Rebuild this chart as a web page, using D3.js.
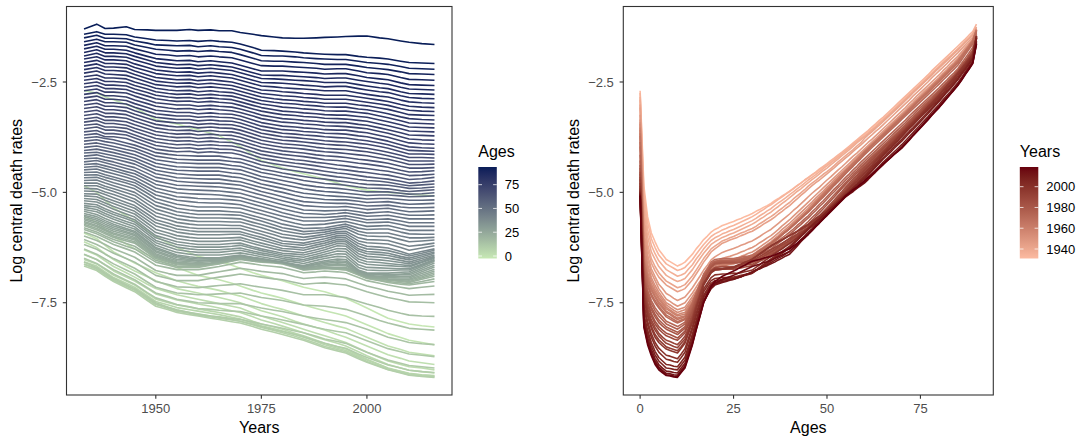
<!DOCTYPE html>
<html>
<head>
<meta charset="utf-8">
<script src="https://cdn.jsdelivr.net/npm/d3@7"></script>
<style>
  body { margin: 0; background: #ffffff; }
  svg { display: block; }
  text { font-family: "Liberation Sans", Arial, Helvetica, sans-serif; }
</style>
</head>
<body>
<svg id="chart" width="1080" height="439"></svg>
<script>
// Calendar years sampled (columns of logMx)
const years = [1933, 1936, 1938, 1940, 1943, 1945, 1948, 1950, 1953, 1955, 1958, 1960, 1963, 1965, 1968, 1970, 1973,
  1975, 1978, 1980, 1983, 1985, 1988, 1990, 1993, 1995, 1998, 2000, 2003, 2005, 2008, 2010, 2013, 2016];

// Single ages (rows of logMx); 90 is the open age group
const ages = [0,1,2,3,4,5,6,7,8,9,10,11,12,13,14,15,16,17,18,19,20,21,22,23,24,25,26,27,28,29,
  30,31,32,33,34,35,36,37,38,39,40,41,42,43,44,45,46,47,48,49,50,51,52,53,54,55,56,57,58,59,
  60,61,62,63,64,65,66,67,68,69,70,71,72,73,74,75,76,77,78,79,80,81,82,83,84,85,86,87,88,89,90];

// Log central death rates, one row per age, one column per year
const logMx = [
  [-2.70,-2.75,-2.84,-2.90,-3.01,-3.08,-3.24,-3.35,-3.41,-3.45,-3.53,-3.58,-3.66,-3.72,-3.86,-3.96,-4.15,-4.28,-4.38,-4.45,-4.53,-4.58,-4.65,-4.70,-4.79,-4.85,-4.91,-4.95,-4.98,-5.00,-5.02,-5.04,-5.06,-5.08],
  [-4.85,-5.00,-5.18,-5.35,-5.53,-5.65,-5.86,-6.00,-6.15,-6.25,-6.37,-6.45,-6.51,-6.55,-6.65,-6.72,-6.82,-6.88,-6.95,-7.00,-7.09,-7.15,-7.21,-7.25,-7.34,-7.40,-7.53,-7.62,-7.76,-7.85,-7.93,-7.98,-8.02,-8.05],
  [-5.55,-5.68,-5.84,-6.00,-6.17,-6.28,-6.41,-6.50,-6.62,-6.70,-6.81,-6.88,-6.94,-6.98,-7.06,-7.12,-7.22,-7.28,-7.35,-7.40,-7.49,-7.55,-7.63,-7.68,-7.75,-7.80,-7.92,-8.00,-8.12,-8.20,-8.29,-8.35,-8.40,-8.45],
  [-5.92,-6.05,-6.20,-6.35,-6.50,-6.60,-6.73,-6.82,-6.93,-7.00,-7.08,-7.13,-7.18,-7.22,-7.30,-7.35,-7.45,-7.52,-7.60,-7.65,-7.74,-7.80,-7.89,-7.95,-8.03,-8.08,-8.20,-8.28,-8.40,-8.48,-8.56,-8.62,-8.66,-8.70],
  [-6.12,-6.25,-6.39,-6.52,-6.68,-6.78,-6.91,-7.00,-7.11,-7.18,-7.24,-7.28,-7.34,-7.38,-7.45,-7.50,-7.61,-7.68,-7.76,-7.82,-7.92,-7.98,-8.06,-8.12,-8.22,-8.28,-8.40,-8.48,-8.60,-8.68,-8.76,-8.82,-8.86,-8.90],
  [-6.30,-6.42,-6.55,-6.68,-6.82,-6.92,-7.08,-7.18,-7.26,-7.32,-7.38,-7.42,-7.48,-7.52,-7.58,-7.62,-7.73,-7.80,-7.89,-7.95,-8.04,-8.10,-8.19,-8.25,-8.34,-8.40,-8.53,-8.62,-8.74,-8.82,-8.90,-8.95,-8.98,-9.02],
  [-6.41,-6.52,-6.65,-6.78,-6.92,-7.01,-7.18,-7.30,-7.38,-7.44,-7.49,-7.53,-7.58,-7.62,-7.68,-7.72,-7.82,-7.89,-7.97,-8.03,-8.12,-8.18,-8.28,-8.34,-8.42,-8.48,-8.61,-8.70,-8.82,-8.90,-8.98,-9.03,-9.06,-9.09],
  [-6.52,-6.62,-6.75,-6.88,-7.01,-7.10,-7.29,-7.42,-7.50,-7.55,-7.60,-7.64,-7.69,-7.72,-7.78,-7.82,-7.92,-7.98,-8.05,-8.10,-8.19,-8.25,-8.35,-8.42,-8.50,-8.55,-8.69,-8.78,-8.90,-8.98,-9.05,-9.10,-9.13,-9.15],
  [-6.57,-6.67,-6.80,-6.93,-7.06,-7.15,-7.34,-7.47,-7.55,-7.61,-7.66,-7.69,-7.74,-7.77,-7.83,-7.87,-7.96,-8.02,-8.09,-8.14,-8.22,-8.28,-8.38,-8.45,-8.53,-8.58,-8.71,-8.80,-8.91,-8.99,-9.06,-9.11,-9.14,-9.16],
  [-6.62,-6.72,-6.85,-6.98,-7.11,-7.20,-7.40,-7.53,-7.61,-7.67,-7.72,-7.75,-7.80,-7.83,-7.88,-7.92,-8.00,-8.06,-8.13,-8.18,-8.26,-8.32,-8.42,-8.49,-8.56,-8.61,-8.74,-8.83,-8.94,-9.01,-9.08,-9.13,-9.16,-9.18],
  [-6.67,-6.77,-6.90,-7.02,-7.16,-7.25,-7.45,-7.58,-7.66,-7.72,-7.77,-7.80,-7.85,-7.88,-7.93,-7.96,-8.04,-8.10,-8.17,-8.22,-8.30,-8.35,-8.45,-8.52,-8.59,-8.64,-8.77,-8.85,-8.95,-9.02,-9.09,-9.14,-9.17,-9.19],
  [-6.63,-6.74,-6.87,-6.99,-7.13,-7.22,-7.41,-7.54,-7.63,-7.69,-7.74,-7.78,-7.82,-7.85,-7.89,-7.92,-7.99,-8.04,-8.11,-8.15,-8.22,-8.27,-8.36,-8.42,-8.49,-8.53,-8.66,-8.74,-8.84,-8.91,-8.98,-9.03,-9.06,-9.08],
  [-6.58,-6.70,-6.83,-6.95,-7.09,-7.18,-7.37,-7.50,-7.60,-7.66,-7.72,-7.76,-7.80,-7.82,-7.86,-7.88,-7.94,-7.98,-8.04,-8.08,-8.14,-8.18,-8.26,-8.32,-8.38,-8.42,-8.54,-8.62,-8.73,-8.80,-8.87,-8.92,-8.95,-8.98],
  [-6.49,-6.61,-6.73,-6.85,-6.99,-7.08,-7.27,-7.39,-7.48,-7.54,-7.59,-7.63,-7.65,-7.67,-7.69,-7.70,-7.76,-7.80,-7.85,-7.89,-7.95,-7.99,-8.06,-8.10,-8.15,-8.18,-8.29,-8.36,-8.47,-8.54,-8.61,-8.66,-8.69,-8.72],
  [-6.40,-6.52,-6.64,-6.75,-6.89,-6.98,-7.16,-7.28,-7.36,-7.42,-7.47,-7.50,-7.51,-7.52,-7.52,-7.52,-7.58,-7.62,-7.67,-7.70,-7.76,-7.80,-7.85,-7.88,-7.92,-7.95,-8.04,-8.10,-8.21,-8.28,-8.35,-8.40,-8.43,-8.45],
  [-6.28,-6.40,-6.51,-6.62,-6.76,-6.85,-7.03,-7.15,-7.23,-7.28,-7.30,-7.32,-7.31,-7.30,-7.29,-7.28,-7.34,-7.38,-7.42,-7.45,-7.51,-7.55,-7.57,-7.58,-7.62,-7.65,-7.74,-7.80,-7.90,-7.96,-8.03,-8.08,-8.10,-8.12],
  [-6.18,-6.29,-6.40,-6.50,-6.63,-6.72,-6.90,-7.02,-7.09,-7.14,-7.15,-7.16,-7.13,-7.11,-7.09,-7.07,-7.12,-7.15,-7.19,-7.22,-7.28,-7.32,-7.32,-7.32,-7.36,-7.38,-7.47,-7.53,-7.61,-7.67,-7.74,-7.78,-7.80,-7.81],
  [-6.07,-6.18,-6.28,-6.38,-6.50,-6.58,-6.76,-6.88,-6.95,-7.00,-7.00,-7.00,-6.95,-6.92,-6.88,-6.85,-6.89,-6.92,-6.96,-6.98,-7.04,-7.08,-7.06,-7.05,-7.08,-7.10,-7.19,-7.25,-7.33,-7.38,-7.44,-7.48,-7.49,-7.50],
  [-5.99,-6.09,-6.18,-6.28,-6.39,-6.47,-6.65,-6.77,-6.84,-6.88,-6.88,-6.88,-6.83,-6.80,-6.75,-6.72,-6.76,-6.79,-6.82,-6.84,-6.91,-6.95,-6.93,-6.92,-6.94,-6.96,-7.06,-7.12,-7.19,-7.24,-7.29,-7.33,-7.32,-7.31],
  [-5.90,-6.00,-6.09,-6.18,-6.28,-6.35,-6.53,-6.65,-6.71,-6.75,-6.75,-6.75,-6.71,-6.68,-6.62,-6.58,-6.62,-6.65,-6.68,-6.70,-6.77,-6.82,-6.80,-6.78,-6.80,-6.82,-6.93,-7.00,-7.06,-7.10,-7.15,-7.18,-7.15,-7.12],
  [-5.84,-5.94,-6.03,-6.12,-6.22,-6.28,-6.46,-6.58,-6.65,-6.70,-6.70,-6.70,-6.65,-6.62,-6.56,-6.52,-6.56,-6.58,-6.60,-6.62,-6.70,-6.76,-6.74,-6.72,-6.74,-6.76,-6.87,-6.95,-7.00,-7.04,-7.08,-7.10,-7.06,-7.02],
  [-5.80,-5.90,-5.99,-6.07,-6.16,-6.22,-6.41,-6.54,-6.62,-6.67,-6.68,-6.68,-6.64,-6.61,-6.55,-6.51,-6.55,-6.57,-6.59,-6.61,-6.69,-6.75,-6.73,-6.72,-6.74,-6.75,-6.86,-6.94,-6.99,-7.02,-7.05,-7.07,-7.02,-6.96],
  [-5.75,-5.85,-5.94,-6.02,-6.10,-6.15,-6.36,-6.50,-6.58,-6.64,-6.65,-6.66,-6.62,-6.60,-6.54,-6.50,-6.54,-6.56,-6.58,-6.60,-6.68,-6.74,-6.73,-6.72,-6.73,-6.74,-6.85,-6.93,-6.97,-6.99,-7.02,-7.04,-6.97,-6.90],
  [-5.72,-5.82,-5.91,-5.99,-6.07,-6.12,-6.33,-6.47,-6.56,-6.62,-6.64,-6.65,-6.61,-6.59,-6.54,-6.50,-6.54,-6.56,-6.58,-6.60,-6.68,-6.74,-6.72,-6.71,-6.72,-6.73,-6.85,-6.93,-6.96,-6.98,-7.00,-7.02,-6.94,-6.86],
  [-5.69,-5.78,-5.87,-5.95,-6.03,-6.08,-6.30,-6.45,-6.54,-6.60,-6.62,-6.63,-6.61,-6.59,-6.54,-6.50,-6.54,-6.56,-6.58,-6.60,-6.68,-6.74,-6.72,-6.71,-6.71,-6.71,-6.84,-6.92,-6.95,-6.97,-6.98,-6.99,-6.91,-6.82],
  [-5.66,-5.75,-5.84,-5.92,-6.00,-6.05,-6.27,-6.42,-6.52,-6.58,-6.60,-6.62,-6.60,-6.58,-6.53,-6.50,-6.54,-6.56,-6.58,-6.60,-6.68,-6.74,-6.72,-6.70,-6.70,-6.70,-6.83,-6.92,-6.94,-6.96,-6.97,-6.97,-6.88,-6.78],
  [-5.62,-5.71,-5.80,-5.88,-5.96,-6.02,-6.24,-6.39,-6.49,-6.55,-6.57,-6.59,-6.57,-6.56,-6.51,-6.48,-6.52,-6.55,-6.58,-6.60,-6.67,-6.72,-6.69,-6.67,-6.65,-6.66,-6.84,-6.90,-6.92,-6.93,-6.94,-6.94,-6.84,-6.74],
  [-5.59,-5.67,-5.76,-5.84,-5.92,-5.98,-6.20,-6.35,-6.45,-6.52,-6.54,-6.56,-6.55,-6.54,-6.50,-6.47,-6.51,-6.54,-6.57,-6.59,-6.66,-6.71,-6.67,-6.64,-6.62,-6.63,-6.82,-6.88,-6.90,-6.91,-6.91,-6.91,-6.80,-6.69],
  [-5.55,-5.63,-5.72,-5.80,-5.89,-5.95,-6.17,-6.32,-6.42,-6.48,-6.52,-6.54,-6.53,-6.52,-6.48,-6.45,-6.49,-6.52,-6.56,-6.59,-6.65,-6.69,-6.64,-6.61,-6.58,-6.59,-6.80,-6.86,-6.87,-6.88,-6.87,-6.87,-6.76,-6.65],
  [-5.52,-5.59,-5.68,-5.76,-5.85,-5.91,-6.13,-6.28,-6.38,-6.45,-6.49,-6.51,-6.50,-6.50,-6.46,-6.44,-6.48,-6.51,-6.55,-6.58,-6.64,-6.68,-6.62,-6.58,-6.55,-6.56,-6.78,-6.84,-6.85,-6.86,-6.85,-6.84,-6.72,-6.60],
  [-5.48,-5.55,-5.64,-5.72,-5.82,-5.88,-6.10,-6.25,-6.35,-6.42,-6.46,-6.48,-6.48,-6.48,-6.44,-6.42,-6.47,-6.50,-6.55,-6.58,-6.63,-6.66,-6.59,-6.55,-6.51,-6.52,-6.76,-6.82,-6.83,-6.83,-6.81,-6.80,-6.68,-6.56],
  [-5.43,-5.50,-5.59,-5.67,-5.77,-5.83,-6.05,-6.20,-6.30,-6.36,-6.40,-6.42,-6.42,-6.42,-6.39,-6.37,-6.42,-6.46,-6.51,-6.54,-6.58,-6.61,-6.54,-6.50,-6.45,-6.46,-6.70,-6.76,-6.77,-6.77,-6.76,-6.76,-6.65,-6.54],
  [-5.39,-5.44,-5.53,-5.61,-5.71,-5.78,-6.00,-6.14,-6.24,-6.30,-6.34,-6.36,-6.36,-6.36,-6.33,-6.31,-6.37,-6.41,-6.46,-6.50,-6.54,-6.56,-6.49,-6.45,-6.39,-6.40,-6.64,-6.70,-6.71,-6.72,-6.73,-6.73,-6.63,-6.52],
  [-5.34,-5.39,-5.48,-5.56,-5.66,-5.72,-5.94,-6.09,-6.18,-6.24,-6.28,-6.30,-6.30,-6.30,-6.28,-6.26,-6.33,-6.37,-6.42,-6.46,-6.50,-6.52,-6.45,-6.40,-6.33,-6.34,-6.57,-6.63,-6.65,-6.66,-6.68,-6.69,-6.59,-6.49],
  [-5.30,-5.33,-5.42,-5.50,-5.60,-5.67,-5.89,-6.03,-6.12,-6.18,-6.22,-6.24,-6.24,-6.24,-6.22,-6.20,-6.27,-6.32,-6.38,-6.42,-6.45,-6.47,-6.40,-6.35,-6.27,-6.28,-6.51,-6.57,-6.59,-6.61,-6.64,-6.66,-6.57,-6.47],
  [-5.25,-5.28,-5.37,-5.45,-5.55,-5.62,-5.84,-5.98,-6.06,-6.12,-6.16,-6.18,-6.18,-6.18,-6.16,-6.15,-6.23,-6.28,-6.34,-6.38,-6.40,-6.42,-6.35,-6.30,-6.21,-6.22,-6.45,-6.51,-6.53,-6.55,-6.59,-6.62,-6.54,-6.45],
  [-5.19,-5.22,-5.30,-5.38,-5.49,-5.56,-5.77,-5.91,-5.99,-6.05,-6.09,-6.11,-6.11,-6.11,-6.09,-6.08,-6.16,-6.21,-6.28,-6.32,-6.35,-6.37,-6.30,-6.25,-6.16,-6.17,-6.39,-6.45,-6.47,-6.49,-6.54,-6.58,-6.50,-6.42],
  [-5.14,-5.16,-5.24,-5.32,-5.42,-5.49,-5.70,-5.84,-5.92,-5.98,-6.02,-6.04,-6.04,-6.04,-6.03,-6.02,-6.10,-6.15,-6.22,-6.27,-6.29,-6.31,-6.24,-6.20,-6.11,-6.12,-6.33,-6.39,-6.41,-6.43,-6.49,-6.53,-6.46,-6.38],
  [-5.08,-5.10,-5.18,-5.25,-5.36,-5.43,-5.63,-5.76,-5.84,-5.90,-5.94,-5.96,-5.96,-5.96,-5.95,-5.95,-6.03,-6.08,-6.16,-6.21,-6.24,-6.26,-6.19,-6.15,-6.07,-6.08,-6.28,-6.34,-6.36,-6.38,-6.45,-6.49,-6.42,-6.35],
  [-5.03,-5.04,-5.12,-5.19,-5.29,-5.36,-5.56,-5.69,-5.77,-5.83,-5.87,-5.89,-5.89,-5.89,-5.89,-5.89,-5.97,-6.02,-6.10,-6.16,-6.18,-6.20,-6.14,-6.10,-6.02,-6.03,-6.22,-6.28,-6.30,-6.32,-6.39,-6.44,-6.38,-6.31],
  [-4.97,-4.98,-5.05,-5.12,-5.23,-5.30,-5.49,-5.62,-5.70,-5.76,-5.80,-5.82,-5.82,-5.82,-5.82,-5.82,-5.90,-5.95,-6.04,-6.10,-6.13,-6.15,-6.09,-6.05,-5.98,-5.98,-6.16,-6.22,-6.24,-6.26,-6.34,-6.40,-6.34,-6.28],
  [-4.91,-4.92,-4.99,-5.05,-5.15,-5.22,-5.41,-5.54,-5.62,-5.68,-5.72,-5.74,-5.74,-5.74,-5.75,-5.75,-5.83,-5.88,-5.96,-6.02,-6.06,-6.08,-6.03,-6.00,-5.93,-5.93,-6.10,-6.14,-6.16,-6.17,-6.25,-6.31,-6.26,-6.21],
  [-4.85,-4.85,-4.92,-4.98,-5.08,-5.15,-5.34,-5.46,-5.54,-5.60,-5.64,-5.66,-5.66,-5.66,-5.67,-5.67,-5.75,-5.80,-5.89,-5.95,-5.99,-6.02,-5.98,-5.95,-5.89,-5.88,-6.03,-6.07,-6.08,-6.09,-6.17,-6.22,-6.19,-6.15],
  [-4.79,-4.79,-4.86,-4.92,-5.01,-5.07,-5.26,-5.38,-5.46,-5.52,-5.56,-5.58,-5.58,-5.58,-5.59,-5.60,-5.68,-5.73,-5.81,-5.87,-5.92,-5.95,-5.92,-5.90,-5.84,-5.82,-5.95,-5.99,-6.00,-6.00,-6.07,-6.12,-6.10,-6.08],
  [-4.73,-4.72,-4.79,-4.85,-4.94,-5.00,-5.18,-5.30,-5.38,-5.44,-5.48,-5.50,-5.50,-5.50,-5.51,-5.52,-5.60,-5.65,-5.74,-5.80,-5.85,-5.89,-5.87,-5.85,-5.80,-5.77,-5.88,-5.92,-5.92,-5.92,-5.99,-6.03,-6.03,-6.02],
  [-4.67,-4.66,-4.72,-4.78,-4.86,-4.92,-5.10,-5.22,-5.30,-5.36,-5.40,-5.42,-5.42,-5.42,-5.44,-5.45,-5.53,-5.58,-5.66,-5.72,-5.78,-5.82,-5.81,-5.80,-5.75,-5.72,-5.81,-5.84,-5.83,-5.83,-5.90,-5.94,-5.95,-5.95],
  [-4.61,-4.60,-4.66,-4.71,-4.79,-4.85,-5.02,-5.14,-5.22,-5.27,-5.31,-5.33,-5.33,-5.33,-5.35,-5.36,-5.44,-5.49,-5.57,-5.63,-5.70,-5.74,-5.73,-5.72,-5.68,-5.66,-5.73,-5.77,-5.76,-5.75,-5.82,-5.86,-5.86,-5.86],
  [-4.55,-4.54,-4.60,-4.65,-4.73,-4.78,-4.95,-5.06,-5.13,-5.18,-5.21,-5.23,-5.24,-5.24,-5.26,-5.28,-5.36,-5.41,-5.49,-5.54,-5.61,-5.65,-5.65,-5.65,-5.61,-5.59,-5.65,-5.69,-5.68,-5.67,-5.73,-5.77,-5.77,-5.77],
  [-4.49,-4.47,-4.53,-4.58,-4.66,-4.72,-4.88,-4.98,-5.05,-5.10,-5.12,-5.14,-5.15,-5.15,-5.17,-5.19,-5.27,-5.32,-5.40,-5.46,-5.53,-5.57,-5.57,-5.57,-5.55,-5.53,-5.58,-5.62,-5.61,-5.60,-5.65,-5.69,-5.69,-5.69],
  [-4.43,-4.41,-4.46,-4.51,-4.59,-4.65,-4.80,-4.90,-4.97,-5.01,-5.03,-5.04,-5.05,-5.06,-5.09,-5.11,-5.19,-5.24,-5.32,-5.37,-5.44,-5.48,-5.49,-5.50,-5.48,-5.46,-5.51,-5.54,-5.53,-5.52,-5.57,-5.60,-5.60,-5.60],
  [-4.37,-4.35,-4.40,-4.45,-4.53,-4.58,-4.72,-4.82,-4.88,-4.92,-4.94,-4.95,-4.96,-4.97,-5.00,-5.02,-5.10,-5.15,-5.23,-5.28,-5.35,-5.40,-5.41,-5.42,-5.41,-5.40,-5.44,-5.47,-5.45,-5.44,-5.49,-5.52,-5.52,-5.51],
  [-4.31,-4.28,-4.33,-4.38,-4.46,-4.51,-4.65,-4.74,-4.80,-4.84,-4.85,-4.86,-4.87,-4.88,-4.91,-4.93,-5.01,-5.06,-5.14,-5.19,-5.26,-5.30,-5.32,-5.33,-5.33,-5.32,-5.36,-5.39,-5.37,-5.36,-5.41,-5.44,-5.43,-5.42],
  [-4.24,-4.22,-4.27,-4.31,-4.39,-4.44,-4.57,-4.66,-4.71,-4.75,-4.77,-4.78,-4.79,-4.79,-4.82,-4.84,-4.92,-4.98,-5.05,-5.10,-5.17,-5.21,-5.23,-5.24,-5.25,-5.25,-5.28,-5.31,-5.30,-5.29,-5.33,-5.35,-5.35,-5.34],
  [-4.18,-4.15,-4.20,-4.24,-4.31,-4.36,-4.49,-4.58,-4.63,-4.67,-4.68,-4.69,-4.70,-4.70,-4.74,-4.76,-4.84,-4.89,-4.96,-5.00,-5.07,-5.11,-5.14,-5.16,-5.17,-5.17,-5.20,-5.23,-5.22,-5.21,-5.25,-5.27,-5.26,-5.25],
  [-4.11,-4.09,-4.13,-4.17,-4.24,-4.29,-4.42,-4.50,-4.55,-4.58,-4.60,-4.61,-4.61,-4.61,-4.65,-4.67,-4.75,-4.81,-4.87,-4.91,-4.98,-5.02,-5.05,-5.07,-5.09,-5.10,-5.13,-5.15,-5.14,-5.14,-5.16,-5.18,-5.18,-5.17],
  [-4.05,-4.02,-4.06,-4.10,-4.17,-4.22,-4.34,-4.42,-4.47,-4.50,-4.51,-4.52,-4.52,-4.52,-4.56,-4.58,-4.66,-4.72,-4.78,-4.82,-4.88,-4.92,-4.96,-4.98,-5.00,-5.02,-5.05,-5.07,-5.06,-5.06,-5.08,-5.10,-5.09,-5.08],
  [-3.98,-3.95,-3.99,-4.03,-4.10,-4.15,-4.26,-4.34,-4.39,-4.42,-4.43,-4.44,-4.44,-4.44,-4.47,-4.49,-4.58,-4.64,-4.69,-4.73,-4.79,-4.83,-4.87,-4.89,-4.91,-4.93,-4.97,-4.99,-4.99,-4.99,-5.02,-5.04,-5.03,-5.01],
  [-3.91,-3.88,-3.92,-3.96,-4.03,-4.07,-4.18,-4.26,-4.30,-4.33,-4.34,-4.35,-4.35,-4.35,-4.39,-4.41,-4.49,-4.55,-4.60,-4.64,-4.69,-4.73,-4.77,-4.80,-4.82,-4.84,-4.88,-4.90,-4.91,-4.92,-4.96,-4.98,-4.96,-4.94],
  [-3.84,-3.81,-3.85,-3.88,-3.95,-4.00,-4.11,-4.18,-4.22,-4.25,-4.26,-4.27,-4.27,-4.27,-4.30,-4.32,-4.41,-4.47,-4.52,-4.56,-4.61,-4.64,-4.68,-4.70,-4.74,-4.76,-4.80,-4.82,-4.83,-4.84,-4.88,-4.91,-4.90,-4.88],
  [-3.77,-3.74,-3.78,-3.81,-3.88,-3.93,-4.03,-4.10,-4.14,-4.16,-4.17,-4.18,-4.18,-4.18,-4.22,-4.24,-4.32,-4.38,-4.43,-4.47,-4.51,-4.54,-4.58,-4.61,-4.65,-4.67,-4.71,-4.73,-4.75,-4.77,-4.82,-4.85,-4.83,-4.81],
  [-3.70,-3.67,-3.74,-3.74,-3.78,-3.85,-3.95,-4.02,-4.06,-4.08,-4.07,-4.10,-4.08,-4.10,-4.11,-4.15,-4.24,-4.30,-4.35,-4.38,-4.42,-4.45,-4.49,-4.52,-4.56,-4.58,-4.62,-4.65,-4.68,-4.70,-4.75,-4.79,-4.77,-4.74],
  [-3.63,-3.60,-3.67,-3.67,-3.70,-3.77,-3.87,-3.94,-3.98,-4.00,-3.99,-4.02,-4.00,-4.02,-4.03,-4.07,-4.16,-4.22,-4.27,-4.30,-4.34,-4.36,-4.40,-4.43,-4.47,-4.49,-4.53,-4.55,-4.59,-4.61,-4.67,-4.71,-4.69,-4.66],
  [-3.56,-3.52,-3.59,-3.59,-3.63,-3.70,-3.80,-3.86,-3.90,-3.92,-3.91,-3.94,-3.92,-3.94,-3.95,-3.99,-4.08,-4.14,-4.19,-4.22,-4.26,-4.28,-4.32,-4.34,-4.38,-4.40,-4.44,-4.46,-4.50,-4.52,-4.58,-4.62,-4.61,-4.59],
  [-3.48,-3.45,-3.52,-3.52,-3.55,-3.62,-3.72,-3.78,-3.82,-3.84,-3.83,-3.86,-3.84,-3.86,-3.87,-3.91,-4.00,-4.06,-4.11,-4.14,-4.17,-4.19,-4.23,-4.26,-4.28,-4.30,-4.34,-4.36,-4.40,-4.43,-4.50,-4.54,-4.53,-4.51],
  [-3.41,-3.37,-3.44,-3.44,-3.48,-3.55,-3.64,-3.70,-3.74,-3.76,-3.75,-3.78,-3.76,-3.78,-3.79,-3.83,-3.92,-3.98,-4.03,-4.06,-4.09,-4.11,-4.15,-4.17,-4.19,-4.21,-4.25,-4.27,-4.31,-4.34,-4.41,-4.45,-4.45,-4.44],
  [-3.34,-3.30,-3.37,-3.37,-3.40,-3.47,-3.56,-3.62,-3.66,-3.68,-3.67,-3.70,-3.68,-3.70,-3.71,-3.75,-3.84,-3.90,-3.95,-3.98,-4.00,-4.02,-4.06,-4.08,-4.10,-4.12,-4.15,-4.17,-4.22,-4.25,-4.32,-4.37,-4.37,-4.36],
  [-3.26,-3.22,-3.29,-3.29,-3.32,-3.39,-3.48,-3.54,-3.58,-3.60,-3.59,-3.62,-3.60,-3.62,-3.63,-3.67,-3.76,-3.82,-3.87,-3.90,-3.92,-3.94,-3.98,-4.00,-4.02,-4.03,-4.06,-4.08,-4.13,-4.17,-4.24,-4.29,-4.29,-4.29],
  [-3.18,-3.14,-3.21,-3.21,-3.24,-3.31,-3.40,-3.46,-3.50,-3.52,-3.51,-3.54,-3.52,-3.54,-3.55,-3.59,-3.68,-3.74,-3.79,-3.82,-3.84,-3.86,-3.89,-3.91,-3.93,-3.94,-3.98,-4.00,-4.05,-4.09,-4.16,-4.21,-4.21,-4.22],
  [-3.10,-3.06,-3.13,-3.13,-3.16,-3.23,-3.32,-3.38,-3.41,-3.43,-3.43,-3.46,-3.44,-3.46,-3.47,-3.51,-3.60,-3.66,-3.71,-3.74,-3.76,-3.78,-3.81,-3.83,-3.85,-3.86,-3.89,-3.91,-3.96,-4.00,-4.08,-4.13,-4.13,-4.14],
  [-3.02,-2.98,-3.05,-3.05,-3.08,-3.15,-3.24,-3.30,-3.33,-3.35,-3.35,-3.38,-3.36,-3.38,-3.39,-3.43,-3.52,-3.58,-3.63,-3.66,-3.68,-3.70,-3.72,-3.74,-3.76,-3.77,-3.81,-3.83,-3.88,-3.92,-4.00,-4.05,-4.06,-4.07],
  [-2.94,-2.90,-2.97,-2.97,-3.00,-3.07,-3.16,-3.22,-3.25,-3.27,-3.27,-3.30,-3.28,-3.30,-3.31,-3.35,-3.44,-3.50,-3.55,-3.58,-3.60,-3.62,-3.64,-3.66,-3.67,-3.68,-3.72,-3.74,-3.80,-3.84,-3.92,-3.97,-3.99,-4.00],
  [-2.86,-2.82,-2.89,-2.89,-2.92,-2.99,-3.08,-3.14,-3.17,-3.19,-3.19,-3.22,-3.20,-3.22,-3.23,-3.27,-3.36,-3.42,-3.47,-3.50,-3.52,-3.54,-3.56,-3.58,-3.59,-3.59,-3.63,-3.65,-3.71,-3.75,-3.83,-3.88,-3.90,-3.91],
  [-2.78,-2.74,-2.81,-2.81,-2.84,-2.91,-2.99,-3.05,-3.09,-3.11,-3.10,-3.13,-3.11,-3.13,-3.15,-3.19,-3.27,-3.33,-3.38,-3.41,-3.43,-3.45,-3.47,-3.49,-3.50,-3.51,-3.54,-3.56,-3.62,-3.66,-3.74,-3.79,-3.81,-3.82],
  [-2.70,-2.66,-2.73,-2.73,-2.75,-2.82,-2.91,-2.97,-3.00,-3.02,-3.02,-3.05,-3.03,-3.05,-3.07,-3.11,-3.19,-3.25,-3.30,-3.33,-3.35,-3.37,-3.39,-3.41,-3.42,-3.42,-3.46,-3.48,-3.54,-3.58,-3.65,-3.70,-3.71,-3.72],
  [-2.62,-2.58,-2.65,-2.65,-2.67,-2.74,-2.82,-2.88,-2.92,-2.94,-2.93,-2.96,-2.94,-2.96,-2.98,-3.03,-3.11,-3.16,-3.21,-3.24,-3.26,-3.28,-3.30,-3.32,-3.33,-3.34,-3.37,-3.39,-3.45,-3.49,-3.56,-3.61,-3.62,-3.63],
  [-2.54,-2.50,-2.57,-2.57,-2.59,-2.66,-2.74,-2.80,-2.84,-2.86,-2.85,-2.88,-2.86,-2.88,-2.90,-2.95,-3.03,-3.08,-3.13,-3.16,-3.18,-3.20,-3.22,-3.24,-3.25,-3.25,-3.28,-3.30,-3.36,-3.40,-3.47,-3.52,-3.53,-3.54],
  [-2.46,-2.42,-2.49,-2.49,-2.51,-2.58,-2.66,-2.72,-2.76,-2.78,-2.77,-2.80,-2.78,-2.80,-2.82,-2.87,-2.95,-3.00,-3.04,-3.07,-3.09,-3.11,-3.13,-3.15,-3.16,-3.16,-3.19,-3.21,-3.27,-3.31,-3.38,-3.43,-3.44,-3.45],
  [-2.38,-2.34,-2.41,-2.41,-2.43,-2.50,-2.58,-2.64,-2.68,-2.70,-2.69,-2.72,-2.70,-2.72,-2.74,-2.79,-2.87,-2.92,-2.96,-2.98,-3.00,-3.02,-3.04,-3.06,-3.07,-3.07,-3.11,-3.13,-3.18,-3.22,-3.29,-3.33,-3.35,-3.36],
  [-2.30,-2.25,-2.32,-2.33,-2.35,-2.41,-2.50,-2.56,-2.59,-2.61,-2.60,-2.63,-2.61,-2.63,-2.66,-2.71,-2.79,-2.84,-2.88,-2.90,-2.92,-2.94,-2.96,-2.98,-2.98,-2.98,-3.02,-3.04,-3.09,-3.12,-3.19,-3.24,-3.25,-3.26],
  [-2.22,-2.17,-2.24,-2.24,-2.26,-2.33,-2.42,-2.48,-2.51,-2.53,-2.52,-2.55,-2.53,-2.55,-2.58,-2.63,-2.71,-2.76,-2.79,-2.81,-2.83,-2.85,-2.87,-2.89,-2.89,-2.89,-2.93,-2.96,-3.00,-3.03,-3.10,-3.14,-3.16,-3.17],
  [-2.14,-2.09,-2.16,-2.16,-2.18,-2.25,-2.34,-2.40,-2.43,-2.45,-2.44,-2.47,-2.45,-2.47,-2.50,-2.55,-2.63,-2.68,-2.70,-2.72,-2.74,-2.76,-2.78,-2.80,-2.80,-2.80,-2.84,-2.87,-2.91,-2.94,-3.01,-3.05,-3.07,-3.08],
  [-2.06,-2.01,-2.08,-2.08,-2.10,-2.17,-2.25,-2.31,-2.34,-2.36,-2.35,-2.38,-2.36,-2.38,-2.41,-2.46,-2.54,-2.59,-2.61,-2.63,-2.65,-2.66,-2.68,-2.70,-2.70,-2.70,-2.75,-2.78,-2.82,-2.84,-2.91,-2.95,-2.97,-2.98],
  [-1.98,-1.93,-2.00,-2.00,-2.02,-2.09,-2.17,-2.23,-2.26,-2.28,-2.27,-2.30,-2.28,-2.30,-2.33,-2.38,-2.46,-2.51,-2.52,-2.53,-2.55,-2.57,-2.59,-2.61,-2.60,-2.60,-2.65,-2.68,-2.72,-2.74,-2.81,-2.85,-2.87,-2.88],
  [-1.91,-1.85,-1.92,-1.92,-1.94,-2.00,-2.08,-2.14,-2.17,-2.19,-2.18,-2.21,-2.19,-2.21,-2.24,-2.29,-2.37,-2.42,-2.43,-2.44,-2.46,-2.47,-2.49,-2.51,-2.51,-2.51,-2.56,-2.59,-2.63,-2.65,-2.72,-2.76,-2.77,-2.78],
  [-1.83,-1.77,-1.84,-1.84,-1.86,-1.92,-2.00,-2.06,-2.09,-2.11,-2.10,-2.13,-2.11,-2.13,-2.16,-2.21,-2.29,-2.34,-2.35,-2.35,-2.37,-2.38,-2.40,-2.42,-2.41,-2.41,-2.46,-2.49,-2.53,-2.55,-2.62,-2.66,-2.67,-2.68],
  [-1.75,-1.69,-1.76,-1.76,-1.78,-1.84,-1.92,-1.97,-2.00,-2.02,-2.01,-2.04,-2.02,-2.04,-2.07,-2.12,-2.20,-2.25,-2.25,-2.25,-2.27,-2.28,-2.30,-2.32,-2.31,-2.31,-2.36,-2.40,-2.43,-2.45,-2.52,-2.56,-2.57,-2.58],
  [-1.67,-1.61,-1.68,-1.68,-1.69,-1.75,-1.82,-1.87,-1.89,-1.91,-1.90,-1.93,-1.91,-1.93,-1.95,-2.00,-2.08,-2.13,-2.14,-2.14,-2.16,-2.17,-2.19,-2.21,-2.20,-2.20,-2.25,-2.29,-2.31,-2.33,-2.40,-2.44,-2.45,-2.46],
  [-1.59,-1.53,-1.59,-1.59,-1.60,-1.66,-1.72,-1.76,-1.78,-1.80,-1.79,-1.81,-1.79,-1.81,-1.83,-1.88,-1.96,-2.02,-2.03,-2.03,-2.05,-2.06,-2.08,-2.10,-2.10,-2.10,-2.14,-2.17,-2.20,-2.22,-2.27,-2.31,-2.32,-2.33],
  [-1.50,-1.44,-1.51,-1.51,-1.52,-1.57,-1.62,-1.66,-1.67,-1.68,-1.67,-1.70,-1.68,-1.70,-1.72,-1.76,-1.84,-1.90,-1.91,-1.91,-1.93,-1.95,-1.97,-1.98,-1.99,-1.99,-2.03,-2.06,-2.08,-2.10,-2.15,-2.19,-2.20,-2.21],
  [-1.42,-1.36,-1.42,-1.42,-1.43,-1.48,-1.52,-1.55,-1.56,-1.57,-1.56,-1.58,-1.56,-1.58,-1.60,-1.64,-1.72,-1.78,-1.79,-1.80,-1.82,-1.84,-1.86,-1.87,-1.88,-1.88,-1.92,-1.94,-1.96,-1.98,-2.03,-2.06,-2.07,-2.08],
  [-1.30,-1.19,-1.29,-1.28,-1.25,-1.31,-1.32,-1.33,-1.33,-1.33,-1.31,-1.33,-1.32,-1.34,-1.34,-1.38,-1.42,-1.45,-1.48,-1.50,-1.51,-1.51,-1.50,-1.49,-1.48,-1.47,-1.46,-1.46,-1.50,-1.52,-1.57,-1.60,-1.63,-1.65]
];

// Axis and legend breaks
const yearTicks = [1950, 1975, 2000];
const ageTicks = [0, 25, 50, 75];
const rateTicks = [-7.5, -5.0, -2.5];
const ageLegendTicks = [0, 25, 50, 75];
const yearLegendTicks = [1940, 1960, 1980, 2000];

// ---------------------------------------------------------------------------
const svg = d3.select("#chart");
const fmtRate = d => d3.format(".1f")(d).replace("-", "\u2212");

const axisGrey = "#4d4d4d";
const frame = "#333333";
const tickLen = 3.7;
const tickFont = 13;
const titleFont = 16;

// colour ramps (Lab interpolation between the end colours)
const ageColour = d3.scaleLinear().domain(d3.extent(ages))
  .range(["#c7e9b4", "#081d58"]).interpolate(d3.interpolateLab);
const yearColour = d3.scaleLinear().domain(d3.extent(years))
  .range(["#fcbba1", "#67000d"]).interpolate(d3.interpolateLab);

// shared y scale with 5% expansion either side
const rateExt = d3.extent(logMx.flat());
const rPad = (rateExt[1] - rateExt[0]) * 0.05;
const panelTop = 6.5, panelBottom = 395;
const y = d3.scaleLinear().domain([rateExt[0] - rPad, rateExt[1] + rPad]).range([panelBottom, panelTop]);

function expanded(ext) {
  const p = (ext[1] - ext[0]) * 0.05;
  return [ext[0] - p, ext[1] + p];
}

function panel(opts) {
  const { left, right, xDomain, xTicks, xTitle, series, colourFor } = opts;
  const x = d3.scaleLinear().domain(xDomain).range([left, right]);
  const g = svg.append("g");

  // lines
  const line = d3.line()
    .defined(d => Number.isFinite(d[1]))
    .x(d => x(d[0])).y(d => y(d[1]));
  g.append("g").selectAll("path").data(series).join("path")
    .attr("d", s => line(s.points))
    .attr("fill", "none")
    .attr("stroke", s => colourFor(s.key))
    .attr("stroke-width", 1.6)
    .attr("stroke-linejoin", "round");

  // frame
  g.append("rect")
    .attr("x", left).attr("y", panelTop)
    .attr("width", right - left).attr("height", panelBottom - panelTop)
    .attr("fill", "none").attr("stroke", frame).attr("stroke-width", 1.1);

  // x axis ticks + labels
  const xa = g.append("g");
  xa.selectAll("line").data(xTicks).join("line")
    .attr("x1", d => x(d)).attr("x2", d => x(d))
    .attr("y1", panelBottom).attr("y2", panelBottom + tickLen)
    .attr("stroke", frame).attr("stroke-width", 1.1);
  xa.selectAll("text").data(xTicks).join("text")
    .attr("x", d => x(d)).attr("y", 413)
    .attr("text-anchor", "middle").attr("font-size", tickFont).attr("fill", axisGrey)
    .text(d => d);

  // y axis ticks + labels
  const ya = g.append("g");
  ya.selectAll("line").data(rateTicks).join("line")
    .attr("x1", left - tickLen).attr("x2", left)
    .attr("y1", d => y(d)).attr("y2", d => y(d))
    .attr("stroke", frame).attr("stroke-width", 1.1);
  ya.selectAll("text").data(rateTicks).join("text")
    .attr("x", left - 9.5).attr("y", d => y(d) + 4.6)
    .attr("text-anchor", "end").attr("font-size", tickFont).attr("fill", axisGrey)
    .text(fmtRate);

  // titles
  g.append("text")
    .attr("x", (left + right) / 2).attr("y", 432.5)
    .attr("text-anchor", "middle").attr("font-size", titleFont).attr("fill", "#000")
    .text(xTitle);
  g.append("text")
    .attr("transform", `translate(${left - 44.5},${(panelTop + panelBottom) / 2}) rotate(-90)`)
    .attr("text-anchor", "middle").attr("font-size", titleFont).attr("fill", "#000")
    .text("Log central death rates");
}

function legend(opts) {
  const { x0, title, colour, domain, ticks, yAt, id } = opts;
  const barTop = 167, barBottom = 258.5, barW = 18.5;
  const g = svg.append("g");
  g.append("text").attr("x", x0).attr("y", 157)
    .attr("font-size", titleFont).attr("fill", "#000").text(title);

  const grad = svg.append("defs").append("linearGradient")
    .attr("id", id).attr("x1", 0).attr("y1", 1).attr("x2", 0).attr("y2", 0);
  const stops = d3.range(0, 1.0001, 0.05);
  grad.selectAll("stop").data(stops).join("stop")
    .attr("offset", t => t)
    .attr("stop-color", t => colour(domain[0] + t * (domain[1] - domain[0])));

  g.append("rect").attr("x", x0).attr("y", barTop)
    .attr("width", barW).attr("height", barBottom - barTop)
    .attr("fill", `url(#${id})`);

  const tl = barW / 5;
  ticks.forEach(v => {
    const yy = yAt(v);
    g.append("line").attr("x1", x0).attr("x2", x0 + tl).attr("y1", yy).attr("y2", yy)
      .attr("stroke", "#ffffff").attr("stroke-opacity", 0.75).attr("stroke-width", 1);
    g.append("line").attr("x1", x0 + barW - tl).attr("x2", x0 + barW).attr("y1", yy).attr("y2", yy)
      .attr("stroke", "#ffffff").attr("stroke-opacity", 0.75).attr("stroke-width", 1);
    g.append("text").attr("x", x0 + barW + 8).attr("y", yy + 4.6)
      .attr("font-size", tickFont).attr("fill", "#000").text(v);
  });
}

// Left panel: one line per age across calendar years
const ageSeries = ages.map((a, i) => ({ key: a, points: years.map((yr, j) => [yr, logMx[i][j]]) }));
panel({
  left: 66.5, right: 452,
  xDomain: expanded(d3.extent(years)),
  xTicks: yearTicks, xTitle: "Years",
  series: ageSeries, colourFor: ageColour
});

// Right panel: one line per year across ages
const yearSeries = years.map((yr, j) => ({ key: yr, points: ages.map((a, i) => [a, logMx[i][j]]) }));
panel({
  left: 623.3, right: 993.3,
  xDomain: expanded(d3.extent(ages)),
  xTicks: ageTicks, xTitle: "Ages",
  series: yearSeries, colourFor: yearColour
});

// Colour bar legends
const ageExt = d3.extent(ages);
const ageLegendY = d3.scaleLinear().domain(ageExt).range([256, 256 - 0.951 * (ageExt[1] - ageExt[0])]);
legend({ x0: 478.3, title: "Ages", colour: ageColour, domain: ageExt,
  ticks: ageLegendTicks, yAt: ageLegendY, id: "ageGrad" });

const yearExt = d3.extent(years);
const yearLegendY = d3.scaleLinear().domain([1940, 2000]).range([249, 186.7]);
legend({ x0: 1019.8, title: "Years", colour: yearColour, domain: yearExt,
  ticks: yearLegendTicks, yAt: yearLegendY, id: "yearGrad" });
</script>
</body>
</html>
